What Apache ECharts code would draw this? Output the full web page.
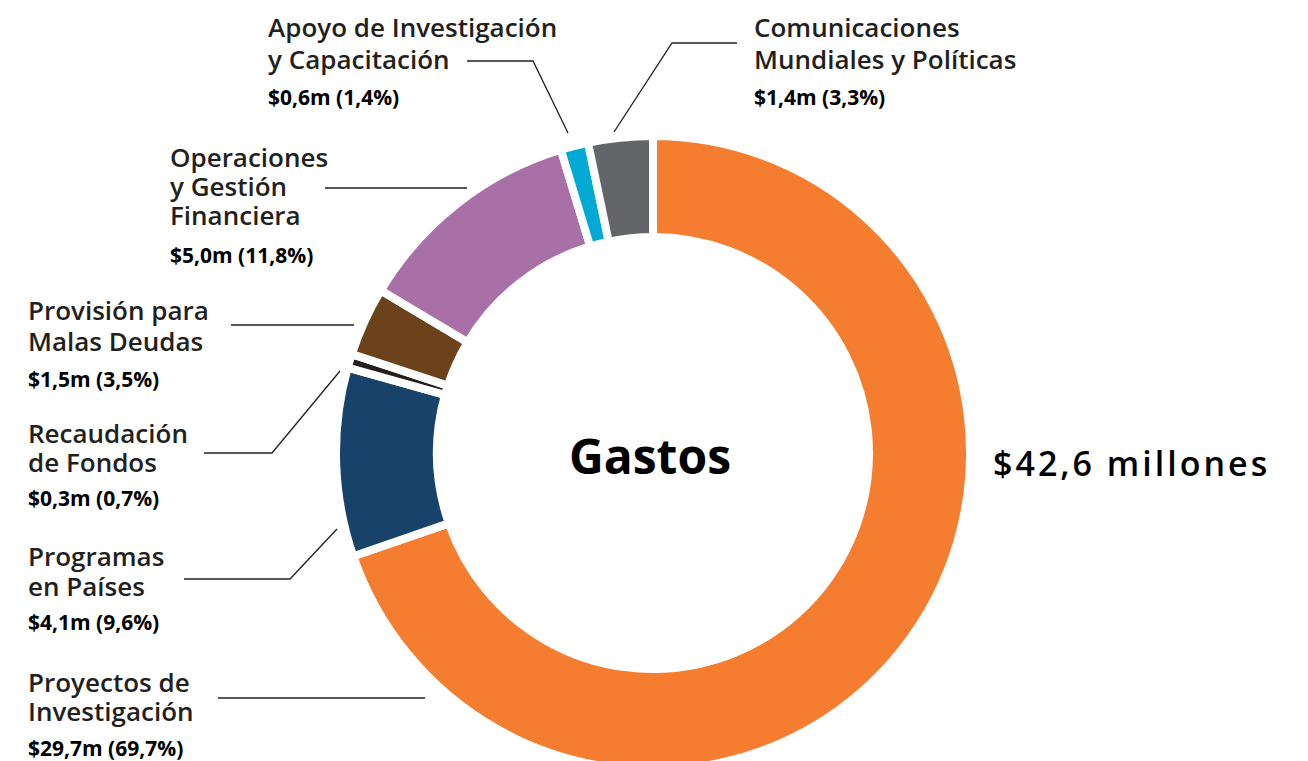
<!DOCTYPE html>
<html>
<head>
<meta charset="utf-8">
<style>
  html, body { margin: 0; padding: 0; background: #fff; }
  #chart { width: 1308px; height: 761px; }
</style>
<script src="https://cdn.jsdelivr.net/npm/echarts@6/dist/echarts.min.js"></script>
</head>
<body>
<div id="chart"></div>
<script>
// slices, clockwise from 12 o'clock
var categories = [
  'Proyectos de\nInvestigación',
  'Programas\nen Países',
  'Recaudación\nde Fondos',
  'Provisión para\nMalas Deudas',
  'Operaciones\ny Gestión\nFinanciera',
  'Apoyo de Investigación\ny Capacitación',
  'Comunicaciones\nMundiales y Políticas'
];
var amounts = [29.7, 4.1, 0.3, 1.5, 5.0, 0.6, 1.4];
var shares = ['69,7%', '9,6%', '0,7%', '3,5%', '11,8%', '1,4%', '3,3%'];
var totalLabel = '$42,6 millones';
var centerLabel = 'Gastos';

var colors = ['#f47d30', '#17436b', '#231f20', '#6b4219', '#a970a8', '#00aad4', '#646569'];

// where each annotation sits: left x, middle y of each title line, middle y of value line, leader line
var labelPos = [
  { x: 28,  lines: [682, 711],      value: 748, leader: [[218, 698], [425, 698]] },
  { x: 28,  lines: [556, 586],      value: 622, leader: [[184, 579], [290, 579], [337, 529]] },
  { x: 28,  lines: [433, 462],      value: 498, leader: [[204, 453], [272, 453], [340, 371]] },
  { x: 28,  lines: [310, 341],      value: 379, leader: [[231, 325], [354, 325]] },
  { x: 170, lines: [157, 186, 215], value: 255, leader: [[325, 188], [467, 188]] },
  { x: 268, lines: [27, 59],        value: 97,  leader: [[467, 61], [533, 61], [568, 133]] },
  { x: 754, lines: [27, 59],        value: 97,  leader: [[737, 43], [672, 43], [614, 132]] }
];

var FONT = '"Open Sans", "Noto Sans", sans-serif';

var graphics = [];
categories.forEach(function(name, i) {
  var p = labelPos[i];
  name.split('\n').forEach(function(line, k) {
    graphics.push({
      type: 'text', x: p.x, y: p.lines[k], silent: true,
      style: { text: line, fontFamily: FONT, fontSize: 26, lineHeight: 27, fontWeight: 600, fill: '#231f20', align: 'left', verticalAlign: 'middle' }
    });
  });
  graphics.push({
    type: 'text', x: p.x, y: p.value, silent: true,
    style: {
      text: '$' + amounts[i].toFixed(1).replace('.', ',') + 'm (' + shares[i] + ')',
      fontFamily: FONT, fontSize: 21, lineHeight: 23, fontWeight: 700, fill: '#000', align: 'left', verticalAlign: 'middle'
    }
  });
  graphics.push({
    type: 'polyline', silent: true,
    shape: { points: p.leader },
    style: { stroke: '#231f20', lineWidth: 1.3, fill: null }
  });
});

graphics.push({
  type: 'text', x: 650, y: 455, silent: true,
  style: { text: centerLabel, fontFamily: FONT, fontSize: 48, fontWeight: 700, fill: '#000', align: 'center', verticalAlign: 'middle' }
});
graphics.push({
  type: 'text', x: 993, y: 463, silent: true,
  style: { text: totalLabel, fontFamily: FONT, fontSize: 34, fontWeight: 600, fill: '#000', align: 'left', verticalAlign: 'middle' }
});

var chart = echarts.init(document.getElementById('chart'), null, { renderer: 'svg' });
chart.setOption({
  animation: false,
  backgroundColor: '#fff',
  series: [{
    type: 'pie',
    center: [653, 453],
    radius: [216, 317],
    startAngle: 90,
    clockwise: true,
    silent: true,
    label: { show: false },
    labelLine: { show: false },
    itemStyle: { borderColor: '#fff', borderWidth: 8 },
    data: amounts.map(function(v, i) {
      return { value: v, name: categories[i].replace(/\n/g, ' '), itemStyle: { color: colors[i] } };
    })
  }],
  graphic: graphics
});

// the total is set with wide tracking in the original
document.querySelectorAll('#chart text').forEach(function(t) {
  if (t.textContent === totalLabel) t.style.letterSpacing = '3px';
});
window.addEventListener('resize', function() { chart.resize(); });
</script>
</body>
</html>
